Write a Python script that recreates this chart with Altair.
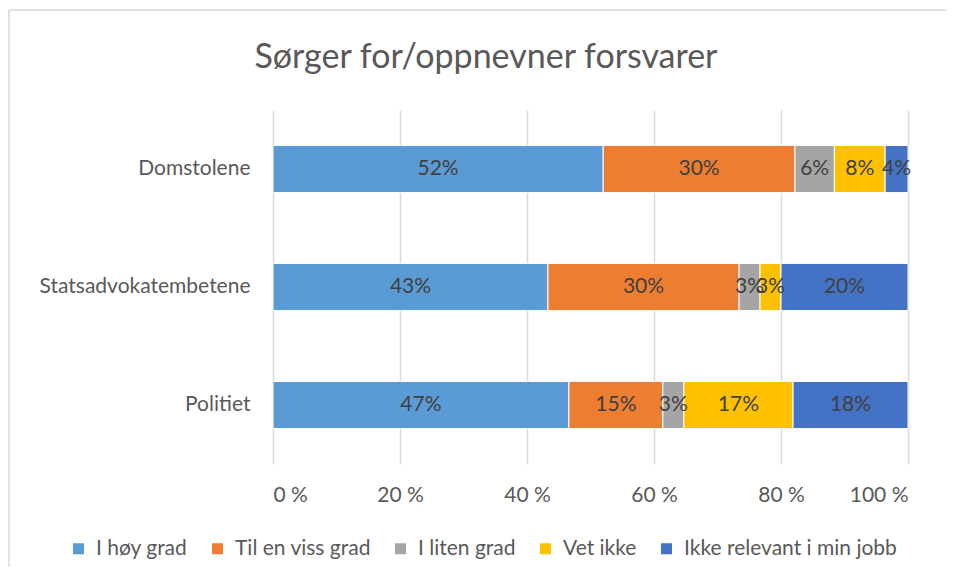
import altair as alt
import pandas as pd

title_text = "Sørger for/oppnevner forsvarer"
categories = ["Domstolene", "Statsadvokatembetene", "Politiet"]
series = ["I høy grad", "Til en viss grad", "I liten grad", "Vet ikke", "Ikke relevant i min jobb"]
colors = ["#5B9BD5", "#ED7D31", "#A5A5A5", "#FFC000", "#4472C4"]
values = {
    "Domstolene": [52.0, 30.2, 6.2, 8.0, 3.6],
    "Statsadvokatembetene": [43.3, 30.1, 3.3, 3.3, 20.0],
    "Politiet": [46.6, 14.8, 3.3, 17.2, 18.1],
}
x_ticks = [0, 0.2, 0.4, 0.6, 0.8, 1.0]

rows = []
for c in categories:
    for i, s in enumerate(series):
        rows.append({"kat": c, "serie": s, "idx": i, "verdi": values[c][i]})
df = pd.DataFrame(rows)

FONT = "Lato"
GREY = "#595959"

base = alt.Chart(df).transform_stack(
    stack="verdi", groupby=["kat"], as_=["x0", "x1"], offset="normalize",
    sort=[alt.SortField("idx", order="ascending")]
).transform_calculate(
    mid="(datum.x0 + datum.x1) / 2",
    label="round(datum.verdi) + '%'"
)

yenc = alt.Y("kat:N", sort=categories, title=None,
             scale=alt.Scale(paddingInner=0.6, paddingOuter=0.3),
             axis=alt.Axis(ticks=False, domain=False, labelPadding=23, labelLimit=400,
                           labelFontSize=21, labelColor=GREY, labelFont=FONT))

bars = base.mark_bar(stroke="white", strokeWidth=1).encode(
    x=alt.X("x0:Q", title=None, scale=alt.Scale(domain=[0, 1]),
            axis=alt.Axis(values=x_ticks, ticks=False, domain=False,
                          labelExpr="round(datum.value*100) + ' %'",
                          labelPadding=20, labelFontSize=21, labelColor=GREY,
                          labelFont=FONT, grid=True, gridColor="#D9D9D9",
                          gridWidth=1.5)),
    x2="x1:Q",
    y=yenc,
    color=alt.Color("serie:N", scale=alt.Scale(domain=series, range=colors),
                    legend=alt.Legend(title=None, orient="none", direction="horizontal",
                                      legendX=-205, legendY=428,
                                      symbolType="square", symbolSize=121,
                                      symbolStrokeWidth=0, labelLimit=400,
                                      labelFontSize=21, labelColor=GREY, labelFont=FONT,
                                      columnPadding=19, labelOffset=7)),
    order=alt.Order("idx:Q"),
)

texts = base.mark_text(fontSize=21, color="#404040", font=FONT).encode(
    x="mid:Q",
    y=alt.Y("kat:N", sort=categories),
    text="label:N",
)

one = pd.DataFrame({"t": [title_text]})
title = alt.Chart(one).mark_text(fontSize=34, color=GREY, font=FONT, align="center",
                                 baseline="alphabetic").encode(
    x=alt.value(213), y=alt.value(-42), text="t:N"
)

border_top = alt.Chart(one).mark_rule(color="#D9D9D9", strokeWidth=1.5).encode(
    x=alt.value(-264), x2=alt.value(690), y=alt.value(-100)
)
border_left = alt.Chart(one).mark_rule(color="#D9D9D9", strokeWidth=1.5).encode(
    x=alt.value(-264), y=alt.value(-100), y2=alt.value(470)
)

chart = alt.layer(border_top, border_left, title, bars, texts).properties(
    width=635, height=354,
    padding={"left": 265, "top": 102, "right": 38, "bottom": 103},
    autosize=alt.AutoSizeParams(type="none"),
).configure_view(stroke=None)

chart.save("out.html", embed_options={"renderer": "svg", "actions": False})
